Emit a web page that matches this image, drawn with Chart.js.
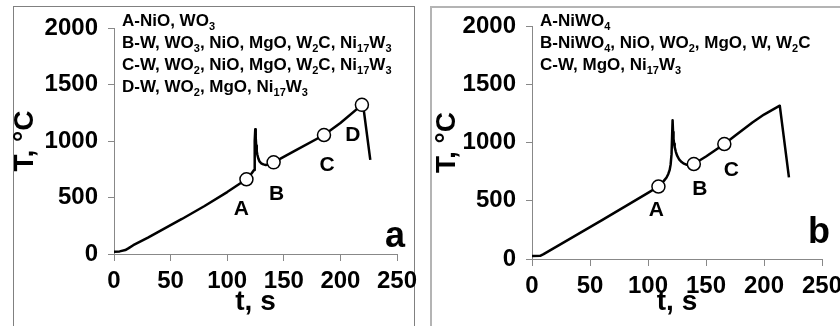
<!DOCTYPE html>
<html>
<head>
<meta charset="utf-8">
<script src="https://cdn.jsdelivr.net/npm/chart.js@4.4.0/dist/chart.umd.min.js"></script>
<style>
  html, body { margin: 0; padding: 0; background: #fff; }
  body { width: 840px; height: 326px; position: relative; overflow: hidden; }
  .frame { position: absolute; box-sizing: border-box; }
  #frame-a { left: 13px; top: 6px; width: 402px; height: 340px; border: 1px solid #808080; }
  #frame-b { left: 430px; top: 6px; width: 430px; height: 340px; border: 2px solid #b4b4b4; }
  canvas { position: absolute; top: 0; }
  #chart-a { left: 0; }
  #chart-b { left: 420px; }
</style>
</head>
<body>
<div class="frame" id="frame-a"></div>
<div class="frame" id="frame-b"></div>
<canvas id="chart-a" width="420" height="326"></canvas>
<canvas id="chart-b" width="420" height="326"></canvas>
<script>
// tick labels, same for both panels
var timeTicks = [0, 50, 100, 150, 200, 250];
var tempTicks = [0, 500, 1000, 1500, 2000];

// panel a
var timeA = [0, 5, 10, 13, 17, 30, 42, 60, 80, 100, 117, 121, 123.7, 124.3, 124.8, 125.2, 125.6, 126.1, 126.6, 127.5, 128.5, 130, 132, 134, 137, 141, 160, 185.5, 200, 219, 220.3, 226.4];
var tempA = [20, 23, 35, 52, 78, 145, 212, 310, 425, 548, 661, 705, 743, 1000, 1105, 1030, 960, 910, 880, 845, 820, 803, 793, 788, 792, 811, 915, 1053, 1160, 1320, 1300, 833];
var markTimeA = [117, 141, 185.5, 219];
var markTempA = [661, 811, 1053, 1320];
var markNamesA = ["A", "B", "C", "D"];
var notesA = [
  "A-NiO, WO_3",
  "B-W, WO_3, NiO, MgO, W_2C, Ni_17W_3",
  "C-W, WO_2, NiO, MgO, W_2C, Ni_17W_3",
  "D-W, WO_2, MgO, Ni_17W_3"
];

// panel b
var timeB = [0, 7, 10, 20, 40, 60, 80, 100, 109, 112, 114, 116, 117.5, 118.7, 119.5, 120.3, 121.2, 121.6, 122, 122.5, 123, 124, 125, 127, 129, 131, 133, 136, 139.5, 150, 165.8, 175, 190, 200, 213.6, 221.5];
var tempB = [25, 27, 42, 100, 215, 332, 450, 568, 622, 650, 675, 700, 730, 765, 810, 900, 1190, 1090, 1030, 990, 960, 920, 890, 852, 832, 818, 810, 808, 815, 880, 987, 1058, 1172, 1240, 1316, 700];
var markTimeB = [109, 139.5, 165.8];
var markTempB = [622, 815, 987];
var markNamesB = ["A", "B", "C"];
var notesB = [
  "A-NiWO_4",
  "B-NiWO_4, NiO, WO_2, MgO, W, W_2C",
  "C-W, MgO, Ni_17W_3"
];

var FONT = "'Liberation Sans', Arial, sans-serif";

// text with _digits drawn as subscript
function drawRich(ctx, str, x, y) {
  var parts = str.split(/_(\d+)/);
  for (var i = 0; i < parts.length; i++) {
    if (!parts[i]) continue;
    var sub = i % 2 == 1;
    ctx.font = "bold " + (sub ? 11 : 17) + "px " + FONT;
    ctx.fillText(parts[i], x, sub ? y + 4 : y);
    x += ctx.measureText(parts[i]).width;
  }
}

var panelText = {
  id: "panelText",
  afterDatasetsDraw: function (chart, args, opts) {
    var ctx = chart.ctx;
    var sx = chart.scales.x;
    var sy = chart.scales.y;
    var area = chart.chartArea;
    ctx.save();
    ctx.fillStyle = "#000";
    ctx.textBaseline = "alphabetic";
    ctx.textAlign = "left";
    opts.notes.forEach(function (line, i) {
      drawRich(ctx, line, area.left + opts.noteX, opts.noteY + i * opts.noteGap);
    });
    ctx.textAlign = "center";
    ctx.font = "bold 21px " + FONT;
    opts.names.forEach(function (name, i) {
      ctx.fillText(
        name,
        sx.getPixelForValue(opts.t[i]) + opts.nameDx[i],
        sy.getPixelForValue(opts.T[i]) + opts.nameDy[i]
      );
    });
    ctx.textAlign = "right";
    ctx.font = "bold 36px " + FONT;
    ctx.fillText(opts.letter, area.right + opts.letterDx, opts.letterY);
    ctx.restore();
  },
};

function makeChart(id, time, temp, markT, markV, cfg) {
  var ctx = document.getElementById(id).getContext("2d");
  return new Chart(ctx, {
    type: "scatter",
    data: {
      datasets: [
        {
          data: markT.map(function (t, i) { return { x: t, y: markV[i] }; }),
          showLine: false,
          pointRadius: 6.5,
          pointBackgroundColor: "#fff",
          pointBorderColor: "#000",
          pointBorderWidth: 1.5,
          order: 0,
        },
        {
          data: time.map(function (t, i) { return { x: t, y: temp[i] }; }),
          showLine: true,
          borderColor: "#000",
          borderWidth: 2.5,
          borderJoinStyle: "round",
          pointRadius: 0,
          tension: 0,
          order: 1,
        },
      ],
    },
    options: {
      responsive: false,
      animation: false,
      devicePixelRatio: 1,
      layout: { padding: cfg.padding },
      plugins: {
        legend: { display: false },
        tooltip: { enabled: false },
        panelText: {
          notes: cfg.notes,
          noteX: 8,
          noteY: 26,
          noteGap: 22,
          names: cfg.names,
          t: markT,
          T: markV,
          nameDx: cfg.nameDx,
          nameDy: cfg.nameDy,
          letter: cfg.letter,
          letterDx: 8,
          letterY: cfg.letterY,
        },
      },
      scales: {
        x: {
          type: "linear",
          min: 0,
          max: 250,
          afterBuildTicks: function (s) {
            s.ticks = timeTicks.map(function (v) { return { value: v }; });
          },
          afterFit: function (s) {
            s.height = cfg.xHeight;
            s.paddingLeft = 0;
            s.paddingRight = 0;
          },
          grid: {
            display: true,
            drawOnChartArea: false,
            drawTicks: true,
            tickLength: 7,
            color: "#888",
          },
          border: { display: true, color: "#888" },
          ticks: {
            autoSkip: false,
            maxRotation: 0,
            padding: 2,
            color: "#000",
            font: { family: FONT, size: 24, weight: "bold", lineHeight: 1.5 },
            callback: function (value) { return String(value); },
          },
          title: {
            display: true,
            text: "t, s",
            color: "#000",
            padding: { top: 0, bottom: cfg.xTitlePad },
            font: { family: FONT, size: 28, weight: "bold", lineHeight: 1 },
          },
        },
        y: {
          type: "linear",
          min: 0,
          max: 2000,
          afterBuildTicks: function (s) {
            s.ticks = tempTicks.map(function (v) { return { value: v }; });
          },
          afterFit: function (s) {
            s.width = cfg.yWidth;
            s.paddingTop = 0;
            s.paddingBottom = 0;
          },
          grid: {
            display: true,
            drawOnChartArea: false,
            drawTicks: true,
            tickLength: 6,
            color: "#888",
          },
          border: { display: true, color: "#888" },
          ticks: {
            autoSkip: false,
            padding: 10,
            color: "#000",
            font: { family: FONT, size: 24, weight: "bold" },
            callback: function (value) { return String(value); },
          },
          title: {
            display: true,
            text: "T, °C",
            color: "#000",
            padding: { top: 0, bottom: 0 },
            font: { family: FONT, size: 28, weight: "bold", lineHeight: 1 },
          },
        },
      },
    },
    plugins: [panelText],
  });
}

makeChart("chart-a", timeA, tempA, markTimeA, markTempA, {
  padding: { left: 11, top: 28, right: 23, bottom: 0 },
  yWidth: 103,
  xHeight: 72,
  xTitlePad: 10,
  notes: notesA,
  names: markNamesA,
  nameDx: [-5, 3, 3, -9],
  nameDy: [36, 38, 36, 36],
  letter: "a",
  letterY: 247,
});

makeChart("chart-b", timeB, tempB, markTimeB, markTempB, {
  padding: { left: 13, top: 26, right: 18, bottom: 0 },
  yWidth: 99,
  xHeight: 67,
  xTitlePad: 10,
  notes: notesB,
  names: markNamesB,
  nameDx: [-2, 6, 7],
  nameDy: [29, 31, 32],
  letter: "b",
  letterY: 243,
});
</script>
</body>
</html>
